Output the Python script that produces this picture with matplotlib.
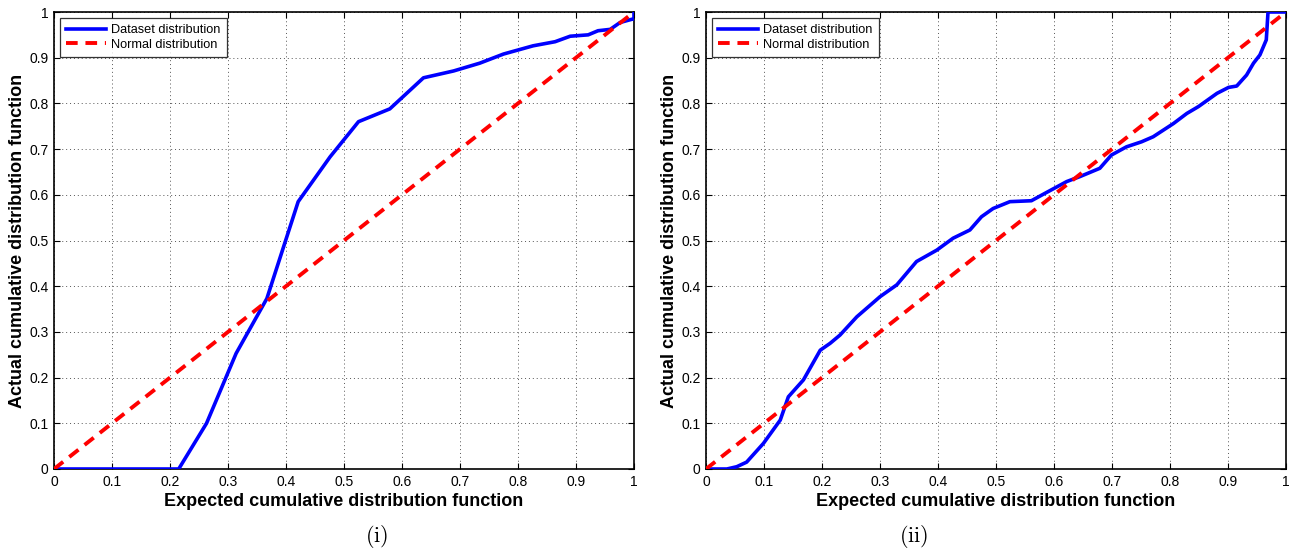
import matplotlib
matplotlib.use("Agg")
import matplotlib.pyplot as plt
import numpy as np

plt.rcParams['font.family'] = ['Liberation Sans', 'DejaVu Sans']
plt.rcParams['mathtext.fontset'] = 'cm'

# Panel (i) data
x1 = [0.0, 0.215, 0.263, 0.314, 0.367, 0.421, 0.476, 0.525, 0.579, 0.637, 0.689,
      0.734, 0.775, 0.826, 0.864, 0.890, 0.921, 0.938, 0.959, 0.976, 0.996, 1.0, 1.0]
y1 = [0.0, 0.0, 0.100, 0.253, 0.373, 0.585, 0.683, 0.760, 0.788, 0.856, 0.871,
      0.888, 0.908, 0.926, 0.935, 0.947, 0.950, 0.959, 0.962, 0.977, 0.984, 0.985, 1.0]

# Panel (ii) data
x2 = [0.0, 0.036, 0.053, 0.070, 0.099, 0.128, 0.142, 0.168, 0.197, 0.214, 0.231,
      0.260, 0.300, 0.329, 0.363, 0.398, 0.426, 0.455, 0.475, 0.495, 0.524, 0.561,
      0.587, 0.622, 0.645, 0.679, 0.699, 0.725, 0.751, 0.771, 0.806, 0.829, 0.849,
      0.881, 0.901, 0.915, 0.932, 0.944, 0.955, 0.966, 0.969, 1.0]
y2 = [0.0, 0.0, 0.005, 0.015, 0.056, 0.107, 0.158, 0.195, 0.260, 0.275, 0.293,
      0.333, 0.377, 0.403, 0.454, 0.479, 0.505, 0.523, 0.552, 0.570, 0.585, 0.587,
      0.605, 0.629, 0.640, 0.658, 0.687, 0.705, 0.716, 0.727, 0.756, 0.778, 0.793,
      0.822, 0.835, 0.838, 0.862, 0.888, 0.906, 0.939, 1.0, 1.0]

ref = [0.0, 1.0]
ticks = [0, 0.1, 0.2, 0.3, 0.4, 0.5, 0.6, 0.7, 0.8, 0.9, 1]
tick_labels = ['0', '0.1', '0.2', '0.3', '0.4', '0.5', '0.6', '0.7', '0.8', '0.9', '1']
panel_labels = [r'$(\mathrm{i})$', r'$(\mathrm{ii})$']

W, H = 1297, 551
fig = plt.figure(figsize=(W / 100, H / 100), dpi=100)

lefts = [54, 706]
caption_x = [377, 914]
for i, (xs, ys) in enumerate([(x1, y1), (x2, y2)]):
    ax = fig.add_axes([lefts[i] / W, (H - 469) / H, 580 / W, 457 / H])
    ax.plot(xs, ys, color='#0000ff', lw=2.6, label='Dataset distribution',
            solid_joinstyle='round', zorder=3)
    ax.plot(ref, ref, color='#ff0000', lw=2.8, ls=(0, (3.0, 2.0)),
            label='Normal distribution', zorder=4)
    ax.set_xlim(0, 1)
    ax.set_ylim(0, 1)
    ax.set_xticks(ticks)
    ax.set_yticks(ticks)
    ax.set_xticklabels(tick_labels)
    ax.set_yticklabels(tick_labels)
    ax.tick_params(direction='in', top=True, right=True, labelsize=10,
                   length=4, width=0.8, pad=4, colors='black')
    ax.grid(True, color='#555555', ls=(0, (1, 3)), lw=0.7)
    for s in ax.spines.values():
        s.set_linewidth(1.2)
    ax.set_xlabel('Expected cumulative distribution function', fontsize=13,
                  fontweight='bold', labelpad=3)
    ax.set_ylabel('Actual cumulative distribution function', fontsize=13,
                  fontweight='bold', labelpad=2)
    leg = ax.legend(loc='upper left', fontsize=9.2, frameon=True, fancybox=False,
                    edgecolor='black', borderpad=0.5, labelspacing=0.2,
                    handlelength=3.1, handletextpad=0.4, borderaxespad=0.45)
    leg.get_frame().set_linewidth(0.9)
    fig.text(caption_x[i] / W, (H - 537) / H, panel_labels[i], fontsize=16,
             ha='center', va='center')

fig.savefig('out.png', dpi=100)
